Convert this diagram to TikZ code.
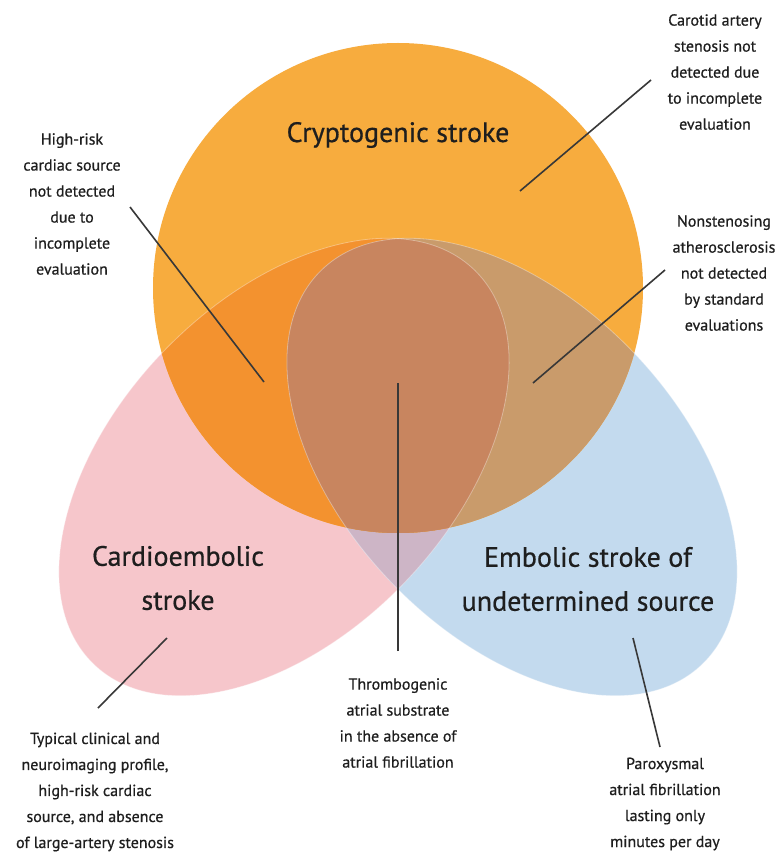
\documentclass[tikz,border=0pt]{standalone}
\usepackage{fontspec}
\setmainfont{PT Sans}[FakeBold=0.6]
\definecolor{orc}{HTML}{F7AC3E}
\definecolor{opc}{HTML}{F3922F}
\definecolor{obc}{HTML}{C99B6B}
\definecolor{allc}{HTML}{C8855F}
\definecolor{pinkc}{HTML}{F6C6CB}
\definecolor{bluec}{HTML}{C3DAEE}
\definecolor{pbc}{HTML}{CDB5C6}
\definecolor{linec}{HTML}{383838}
\definecolor{txtc}{HTML}{1E1E1E}
\newcommand\orshape{(398,288) circle[radius=245]}
\newcommand\pinkshape{(284,467) circle[x radius=274, y radius=167, rotate=46]}
\newcommand\blueshape{(512,467) circle[x radius=274, y radius=167, rotate=-46]}
\begin{document}
\begin{tikzpicture}[x=1pt,y=-1pt,
  small/.style={align=center,text=txtc,inner sep=0pt,font=\fontsize{16}{26}\selectfont},
  big/.style={align=center,text=txtc,inner sep=0pt,font=\fontsize{28}{44}\selectfont},
  leader/.style={draw=linec,line width=1.6pt},
  edge/.style={draw=white,draw opacity=.35,line width=.8pt}]
\useasboundingbox (0,0) rectangle (777,853);
\fill[white] (0,0) rectangle (777,853);
% shapes
\fill[pinkc] \pinkshape;
\fill[bluec] \blueshape;
\begin{scope}
  \clip \pinkshape;
  \fill[pbc] \blueshape;
\end{scope}
\fill[orc] \orshape;
\begin{scope}
  \clip \orshape;
  \fill[opc] \pinkshape;
  \fill[obc] \blueshape;
  \clip \pinkshape;
  \fill[allc] \blueshape;
\end{scope}
\path[edge] \pinkshape;
\path[edge] \blueshape;
% titles
\node[big] (crypto) at (398,135) {Cryptogenic stroke};
\node[big] (cardio) at (178,578) {Cardioembolic\\stroke};
\node[big] (esus) at (588,579) {Embolic stroke of\\undetermined source};
% labels
\node[small] (hr) at (72,204) {High-risk\\cardiac source\\not detected\\due to\\incomplete\\evaluation};
\node[small] (car) at (715,72) {Carotid artery\\stenosis not\\detected due\\to incomplete\\evaluation};
\node[small] (ns) at (724,273) {Nonstenosing\\atherosclerosis\\not detected\\by standard\\evaluations};
\node[small] (th) at (398,723) {Thrombogenic\\atrial substrate\\in the absence of\\atrial fibrillation};
\node[small] (typ) at (95,792) {Typical clinical and\\neuroimaging profile,\\high-risk cardiac\\source, and absence\\of large-artery stenosis};
\node[small] (par) at (665,804) {Paroxysmal\\atrial fibrillation\\lasting only\\minutes per day};
% leader ends
\coordinate (hrA) at (130,207); \coordinate (hrB) at (264,382);
\coordinate (carA) at (651,80); \coordinate (carB) at (520,191);
\coordinate (nsA) at (665,270); \coordinate (nsB) at (533,383);
\coordinate (thA) at (398,651); \coordinate (thB) at (398,383);
\coordinate (ceA) at (98,708); \coordinate (ceB) at (167,638);
\coordinate (esA) at (660,747); \coordinate (esB) at (633,638);
\draw[leader] (hrA) -- (hrB);
\draw[leader] (carA) -- (carB);
\draw[leader] (nsA) -- (nsB);
\draw[leader] (thA) -- (thB);
\draw[leader] (ceA) -- (ceB);
\draw[leader] (esA) -- (esB);
\end{tikzpicture}
\end{document}
